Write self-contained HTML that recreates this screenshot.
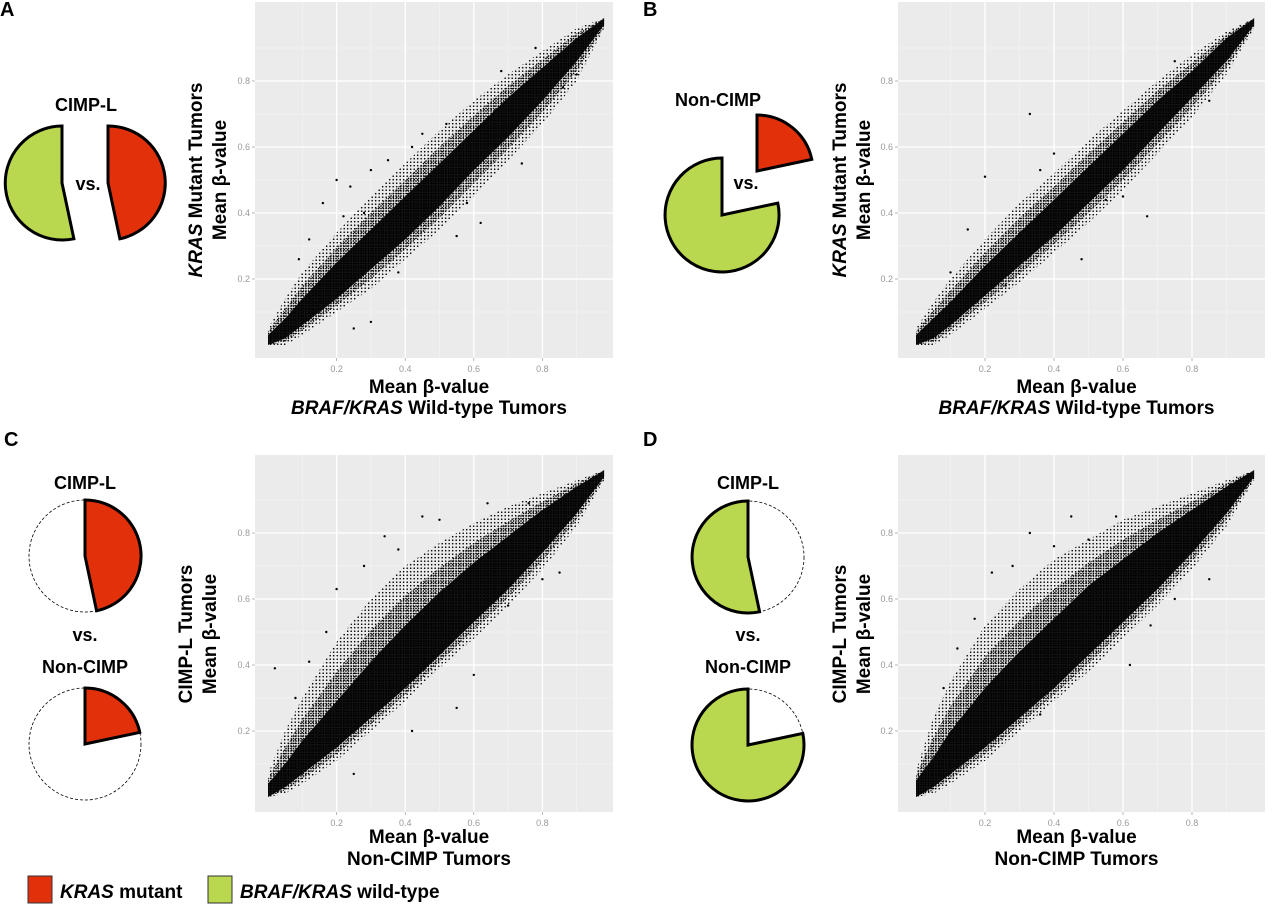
<!DOCTYPE html>
<html><head><meta charset="utf-8">
<style>
body{margin:0;background:#fff;}
svg{display:block;font-family:"Liberation Sans",sans-serif;}
.pl{font-weight:bold;font-size:20px;}
.lbl{font-weight:bold;font-size:18px;text-anchor:middle;}
.at{font-weight:bold;font-size:19px;text-anchor:middle;}
.tk{font-size:9px;fill:#999;}
</style></head>
<body>
<svg id="fig" width="1280" height="906" viewBox="0 0 1280 906">
<defs>
<pattern id="dots" width="3.5" height="3.5" patternUnits="userSpaceOnUse"><circle cx="1.2" cy="1.2" r="0.8" fill="#000"/></pattern>
<pattern id="dots2" width="2.5" height="2.5" patternUnits="userSpaceOnUse"><circle cx="1" cy="1" r="0.85" fill="#000"/></pattern>
</defs>
<text class="pl" x="0" y="16">A</text>
<text class="pl" x="643" y="16">B</text>
<text class="pl" x="4" y="446">C</text>
<text class="pl" x="643" y="446">D</text>

<text class="lbl" x="86" y="111">CIMP-L</text>
<text class="lbl" x="88" y="190">vs.</text>
<text class="lbl" x="718" y="106">Non-CIMP</text>
<text class="lbl" x="746" y="189">vs.</text>
<text class="lbl" x="85" y="489">CIMP-L</text>
<text class="lbl" x="85" y="641">vs.</text>
<text class="lbl" x="85" y="673">Non-CIMP</text>
<text class="lbl" x="748" y="489">CIMP-L</text>
<text class="lbl" x="748" y="641">vs.</text>
<text class="lbl" x="748" y="673">Non-CIMP</text>

<g>
<rect x="28" y="876" width="24" height="27" fill="#e2300b" stroke="#333"/>
<text x="60" y="898" font-size="19" font-weight="bold"><tspan font-style="italic">KRAS</tspan> mutant</text>
<rect x="208" y="876" width="24" height="27" fill="#bad84f" stroke="#333"/>
<text x="240" y="898" font-size="19" font-weight="bold"><tspan font-style="italic">BRAF/KRAS</tspan> wild-type</text>
</g>
</svg>
<script>
// ---- data ----
const tickVals = [0.2, 0.4, 0.6, 0.8];
const tickLabels = ["0.2", "0.4", "0.6", "0.8"];
const minorVals = [0.1, 0.3, 0.5, 0.7, 0.9];
const bandX = [0, 0.05, 0.1, 0.2, 0.3, 0.4, 0.5, 0.6, 0.7, 0.8, 0.9, 0.98];
const aCoreLo = [0, 0.02, 0.06, 0.14, 0.23, 0.32, 0.42, 0.53, 0.63, 0.74, 0.86, 0.97];
const aCoreHi = [0.03, 0.08, 0.14, 0.25, 0.35, 0.45, 0.55, 0.65, 0.75, 0.84, 0.93, 0.99];
const aOutLo = [0, 0, 0.03, 0.1, 0.17, 0.26, 0.35, 0.45, 0.56, 0.67, 0.8, 0.96];
const aOutHi = [0.05, 0.14, 0.22, 0.34, 0.45, 0.55, 0.65, 0.74, 0.82, 0.89, 0.96, 0.99];
const bCoreLo = [0, 0.02, 0.06, 0.15, 0.24, 0.33, 0.43, 0.53, 0.64, 0.75, 0.86, 0.97];
const bCoreHi = [0.03, 0.08, 0.13, 0.24, 0.34, 0.44, 0.54, 0.64, 0.74, 0.83, 0.93, 0.99];
const bOutLo = [0, 0, 0.03, 0.11, 0.19, 0.28, 0.37, 0.47, 0.58, 0.69, 0.82, 0.96];
const bOutHi = [0.05, 0.13, 0.2, 0.32, 0.43, 0.52, 0.62, 0.71, 0.8, 0.88, 0.95, 0.99];
const cCoreLo = [0, 0.03, 0.07, 0.15, 0.24, 0.33, 0.43, 0.53, 0.63, 0.74, 0.86, 0.97];
const cCoreHi = [0.04, 0.1, 0.17, 0.29, 0.41, 0.52, 0.62, 0.71, 0.79, 0.87, 0.94, 0.99];
const cOutLo = [0, 0.01, 0.04, 0.11, 0.2, 0.29, 0.39, 0.48, 0.58, 0.69, 0.82, 0.96];
const cOutHi = [0.07, 0.2, 0.3, 0.47, 0.6, 0.7, 0.77, 0.83, 0.88, 0.92, 0.96, 0.99];
const dCoreLo = [0, 0.03, 0.07, 0.15, 0.24, 0.33, 0.43, 0.53, 0.63, 0.74, 0.86, 0.97];
const dCoreHi = [0.05, 0.12, 0.2, 0.33, 0.44, 0.54, 0.64, 0.72, 0.8, 0.87, 0.94, 0.99];
const dOutLo = [0, 0.01, 0.04, 0.11, 0.2, 0.29, 0.38, 0.48, 0.58, 0.69, 0.82, 0.96];
const dOutHi = [0.08, 0.24, 0.35, 0.52, 0.63, 0.72, 0.78, 0.84, 0.88, 0.92, 0.96, 0.99];
const aOutX = [0.2, 0.24, 0.3, 0.25, 0.3, 0.74, 0.55, 0.45, 0.35, 0.62, 0.86, 0.16, 0.12, 0.28, 0.42, 0.52, 0.68, 0.78, 0.9, 0.38, 0.58, 0.09, 0.22];
const aOutY = [0.5, 0.48, 0.53, 0.05, 0.07, 0.55, 0.33, 0.64, 0.56, 0.37, 0.78, 0.43, 0.32, 0.4, 0.6, 0.67, 0.83, 0.9, 0.82, 0.22, 0.43, 0.26, 0.39];
const bOutX = [0.33, 0.2, 0.67, 0.55, 0.48, 0.36, 0.26, 0.15, 0.4, 0.6, 0.75, 0.1, 0.85];
const bOutY = [0.7, 0.51, 0.39, 0.44, 0.26, 0.53, 0.18, 0.35, 0.58, 0.45, 0.86, 0.22, 0.74];
const cOutX = [0.02, 0.25, 0.34, 0.45, 0.6, 0.64, 0.76, 0.85, 0.2, 0.55, 0.12, 0.17, 0.28, 0.38, 0.5, 0.7, 0.8, 0.42, 0.08];
const cOutY = [0.39, 0.07, 0.79, 0.85, 0.37, 0.89, 0.89, 0.68, 0.63, 0.27, 0.41, 0.5, 0.7, 0.75, 0.84, 0.58, 0.66, 0.2, 0.3];
const dOutX = [0.45, 0.33, 0.5, 0.22, 0.17, 0.68, 0.85, 0.36, 0.12, 0.28, 0.4, 0.58, 0.75, 0.08, 0.62];
const dOutY = [0.85, 0.8, 0.78, 0.68, 0.54, 0.52, 0.66, 0.25, 0.45, 0.7, 0.76, 0.85, 0.6, 0.33, 0.4];
// pie shares (degrees clockwise from top)
const krasShareCimpL = 168;
const krasShareNonCimp = 78;

const NS = "http://www.w3.org/2000/svg";
const svg = document.getElementById('fig');
function mk(tag, attrs, parent) {
  const e = document.createElementNS(NS, tag);
  for (const k in attrs) e.setAttribute(k, attrs[k]);
  (parent || svg).appendChild(e);
  return e;
}

const panels = [
  {id:'a', x0:255, x1:613, y0:2, y1:358, ox:268, sx:343, oy:345, sy:330, core:[aCoreLo,aCoreHi], out:[aOutLo,aOutHi], px:aOutX, py:aOutY,
   yt:["<tspan font-style='italic'>KRAS</tspan> Mutant Tumors","Mean β-value"], ytx:[202,226], yc:180,
   xt:["Mean β-value","<tspan font-style='italic'>BRAF/KRAS</tspan> Wild-type Tumors"], xty:[393,414]},
  {id:'b', x0:898, x1:1265, y0:2, y1:358, ox:916, sx:345, oy:345, sy:330, core:[bCoreLo,bCoreHi], out:[bOutLo,bOutHi], px:bOutX, py:bOutY,
   yt:["<tspan font-style='italic'>KRAS</tspan> Mutant Tumors","Mean β-value"], ytx:[846,870], yc:180,
   xt:["Mean β-value","<tspan font-style='italic'>BRAF/KRAS</tspan> Wild-type Tumors"], xty:[393,414]},
  {id:'c', x0:255, x1:613, y0:455, y1:812, ox:268, sx:343, oy:797, sy:330, core:[cCoreLo,cCoreHi], out:[cOutLo,cOutHi], px:cOutX, py:cOutY,
   yt:["CIMP-L Tumors","Mean β-value"], ytx:[192,216], yc:634,
   xt:["Mean β-value","Non-CIMP Tumors"], xty:[843,865]},
  {id:'d', x0:898, x1:1265, y0:455, y1:812, ox:916, sx:345, oy:797, sy:330, core:[dCoreLo,dCoreHi], out:[dOutLo,dOutHi], px:dOutX, py:dOutY,
   yt:["CIMP-L Tumors","Mean β-value"], ytx:[846,870], yc:634,
   xt:["Mean β-value","Non-CIMP Tumors"], xty:[843,865]}
];

function band(p, lo, hi) {
  const X = v => p.ox + p.sx * v, Y = v => p.oy - p.sy * v;
  let d = '';
  bandX.forEach((v, i) => { d += (i ? 'L' : 'M') + X(v).toFixed(1) + ',' + Y(hi[i]).toFixed(1); });
  for (let i = bandX.length - 1; i >= 0; i--) d += 'L' + X(bandX[i]).toFixed(1) + ',' + Y(lo[i]).toFixed(1);
  return d + 'Z';
}
function mid(a, b, w) { return a.map((v, i) => v + (b[i] - v) * w); }

panels.forEach(p => {
  const X = v => p.ox + p.sx * v, Y = v => p.oy - p.sy * v;
  const g = mk('g', {});
  
  
  const bg = mk('rect', {x:p.x0, y:p.y0, width:p.x1-p.x0, height:p.y1-p.y0, fill:'#ebebeb'}, g);
  
  
  minorVals.forEach(v => {
    mk('line', {x1:X(v), x2:X(v), y1:p.y0, y2:p.y1, stroke:'#f5f5f5', 'stroke-width':0.6}, g);
    mk('line', {x1:p.x0, x2:p.x1, y1:Y(v), y2:Y(v), stroke:'#f5f5f5', 'stroke-width':0.6}, g);
  });
  tickVals.forEach((v, i) => {
    const gx = mk('line', {x1:X(v), x2:X(v), y1:p.y0, y2:p.y1, stroke:'#fff', 'stroke-width':1.3}, g);
    
    
    const gy = mk('line', {x1:p.x0, x2:p.x1, y1:Y(v), y2:Y(v), stroke:'#fff', 'stroke-width':1.3}, g);
    
    
    mk('line', {x1:X(v), x2:X(v), y1:p.y1, y2:p.y1+3, stroke:'#888', 'stroke-width':0.6}, g);
    mk('line', {x1:p.x0-3, x2:p.x0, y1:Y(v), y2:Y(v), stroke:'#888', 'stroke-width':0.6}, g);
    const tx = mk('text', {x:X(v), y:p.y1+14, class:'tk', 'text-anchor':'middle'}, g);
    tx.textContent = tickLabels[i];
    
    
    const ty = mk('text', {x:p.x0-5, y:Y(v)+3, class:'tk', 'text-anchor':'end'}, g);
    ty.textContent = tickLabels[i];
    
    
  });
  const ob = mk('path', {d:band(p, p.out[0], p.out[1]), fill:'url(#dots)', 'stroke':'none'}, g);
  
  
  const mb = mk('path', {d:band(p, mid(p.out[0], p.core[0], 0.5), mid(p.out[1], p.core[1], 0.5)), fill:'url(#dots2)', 'stroke':'none'}, g);
  
  
  const cb = mk('path', {d:band(p, p.core[0], p.core[1]), fill:'#000', 'stroke':'none', opacity:0.92}, g);
  
  
  p.px.forEach((v, i) => {
    const c = mk('circle', {cx:X(v), cy:Y(p.py[i]), r:1.2, fill:'#000'}, g);
    
    
  });
  p.yt.forEach((t, i) => {
    const e = mk('text', {class:'at', transform:'translate(' + p.ytx[i] + ',' + p.yc + ') rotate(-90)'});
    e.innerHTML = t;
    
    
  });
  p.xt.forEach((t, i) => {
    const e = mk('text', {class:'at', x:(p.x0 + p.x1) / 2 - 5, y:p.xty[i]});
    e.innerHTML = t;
    
    
  });
});

function wedge(cx, cy, r, a0, a1) {
  const P = a => [cx + r * Math.sin(a * Math.PI / 180), cy - r * Math.cos(a * Math.PI / 180)];
  const s = P(a0), e = P(a1);
  const large = (a1 - a0) > 180 ? 1 : 0;
  return 'M' + cx + ',' + cy + 'L' + s[0].toFixed(1) + ',' + s[1].toFixed(1) + 'A' + r + ',' + r + ' 0 ' + large + ' 1 ' + e[0].toFixed(1) + ',' + e[1].toFixed(1) + 'Z';
}
const RED = '#e2300b', GREEN = '#bad84f';
function pie(cx, cy, r, a0, a1, fill, name, dashed) {
  if (dashed) {
    const c = mk('circle', {cx:cx, cy:cy, r:r, fill:'none', stroke:'#000', 'stroke-width':0.8, 'stroke-dasharray':'3,2'});
    
    
  }
  const w = mk('path', {d:wedge(cx, cy, r, a0, a1), fill:fill, stroke:'#000', 'stroke-width':3, 'stroke-linejoin':'miter'});
  
  
}
pie(62, 183, 57, krasShareCimpL, 360, GREEN, 'pie-a-wildtype', false);
pie(108, 183, 57, 0, krasShareCimpL, RED, 'pie-a-kras', false);
pie(757, 171, 56, 0, krasShareNonCimp, RED, 'pie-b-kras', false);
pie(722, 215, 57, krasShareNonCimp, 360, GREEN, 'pie-b-wildtype', false);
pie(85, 556, 56, 0, krasShareCimpL, RED, 'pie-c-cimpl-kras', true);
pie(85, 744, 56, 0, krasShareNonCimp, RED, 'pie-c-noncimp-kras', true);
pie(748, 557, 56, krasShareCimpL, 360, GREEN, 'pie-d-cimpl-wildtype', true);
pie(748, 745, 56, krasShareNonCimp, 360, GREEN, 'pie-d-noncimp-wildtype', true);
</script>
</body></html>
